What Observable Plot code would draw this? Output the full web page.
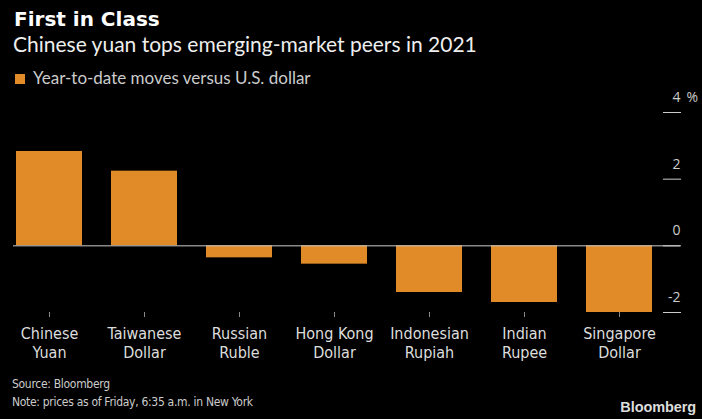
<!DOCTYPE html>
<html>
<head>
<meta charset="utf-8">
<script src="https://cdn.jsdelivr.net/npm/d3@7"></script>
<script src="https://cdn.jsdelivr.net/npm/@observablehq/plot@0.6"></script>
<style>
  html, body { margin: 0; padding: 0; background: #000; }
  #wrap { position: relative; width: 702px; height: 419px; overflow: hidden; background: #000; }
  .t { position: absolute; white-space: nowrap; }
  #title { left: 14px; top: 9px; font: bold 20px/20px "DejaVu Sans", sans-serif; color: #fff; }
  #subtitle { left: 13px; top: 33px; font: 21px/21px Lato, "Open Sans", sans-serif; color: #eee; }
  #legend { left: 15px; top: 69px; font: 17px/17px Lato, "Open Sans", sans-serif; color: #ccc; }
  #legend .sw { display: inline-block; width: 10px; height: 10px; background: #e08b28; margin-right: 8px; vertical-align: 0px; }
  #chart { position: absolute; left: 0; top: 88px; }
  .foot { left: 12px; font: 12px/12px "DejaVu Sans Condensed", sans-serif; font-stretch: condensed; color: #ccc; letter-spacing: -0.3px; }
  #source { top: 378px; }
  #note { top: 396px; }
  #logo { right: 6px; top: 400px; font: bold 14.5px/14.5px "Liberation Sans", Arial, sans-serif; color: #ddd; letter-spacing: -0.1px; }
</style>
</head>
<body>
<div id="wrap">
  <div class="t" id="title">First in Class</div>
  <div class="t" id="subtitle">Chinese yuan tops emerging-market peers in 2021</div>
  <div class="t" id="legend"><span class="sw"></span>Year-to-date moves versus U.S. dollar</div>
  <div id="chart"></div>
  <div class="t foot" id="source">Source: Bloomberg</div>
  <div class="t foot" id="note">Note: prices as of Friday, 6:35 a.m. in New York</div>
  <div class="t" id="logo">Bloomberg</div>
</div>
<script>
const currencies = ["Chinese Yuan", "Taiwanese Dollar", "Russian Ruble", "Hong Kong Dollar", "Indonesian Rupiah", "Indian Rupee", "Singapore Dollar"];
const ytdMoves = [2.83, 2.24, -0.36, -0.55, -1.40, -1.70, -2.00];
const yTicks = [-2, 0, 2, 4];

const data = currencies.map((c, i) => ({currency: c, value: ytdMoves[i]}));
const barColor = "#e08b28";
const condensed = '"DejaVu Sans Condensed", sans-serif';
const sans = '"Open Sans", sans-serif';

const chart = Plot.plot({
  width: 702,
  height: 290,
  marginLeft: 13,
  marginRight: 22,
  marginTop: 24,
  marginBottom: 66,
  style: {background: "#000", color: "#ccc", overflow: "visible"},
  x: {domain: currencies, range: [13.3, 655.3], paddingInner: 0.305, paddingOuter: 0, label: null},
  y: {domain: [-2, 4], nice: false, label: null},
  marks: [
    Plot.barY(data, {x: "currency", y: "value", fill: barColor}),
    Plot.ruleY([0], {stroke: "#ccc", strokeWidth: 1}),
    Plot.axisX({
      anchor: "bottom",
      label: null,
      tickSize: 5,
      tickPadding: 8,
      stroke: "#888",
      fill: "#ddd",
      fontSize: 16,
      fontFamily: condensed,
      lineHeight: 1.2,
      tickFormat: d => d.replace(/ (?=\S+$)/, "\n")
    }),
    // y-axis tick segments
    Plot.axisY({
      anchor: "right",
      label: null,
      ticks: yTicks,
      tickSize: 18,
      insetRight: 18,
      stroke: "#ccc",
      fill: "none"
    }),
    // y-axis labels, sitting above their tick segments
    Plot.axisY({
      anchor: "right",
      label: null,
      ticks: yTicks,
      tickSize: 0,
      tickPadding: 0,
      textAnchor: "end",
      dy: -15,
      fill: "#ccc",
      fontSize: 14,
      fontFamily: sans,
      tickFormat: d => String(d)
    }),
    Plot.text(yTicks.filter(d => d === 4), {
      y: d => d,
      text: () => "%",
      frameAnchor: "right",
      textAnchor: "start",
      dx: 6,
      dy: -15,
      fill: "#ccc",
      fontSize: 14,
      fontFamily: sans
    })
  ]
});
document.getElementById("chart").appendChild(chart);
</script>
</body>
</html>
